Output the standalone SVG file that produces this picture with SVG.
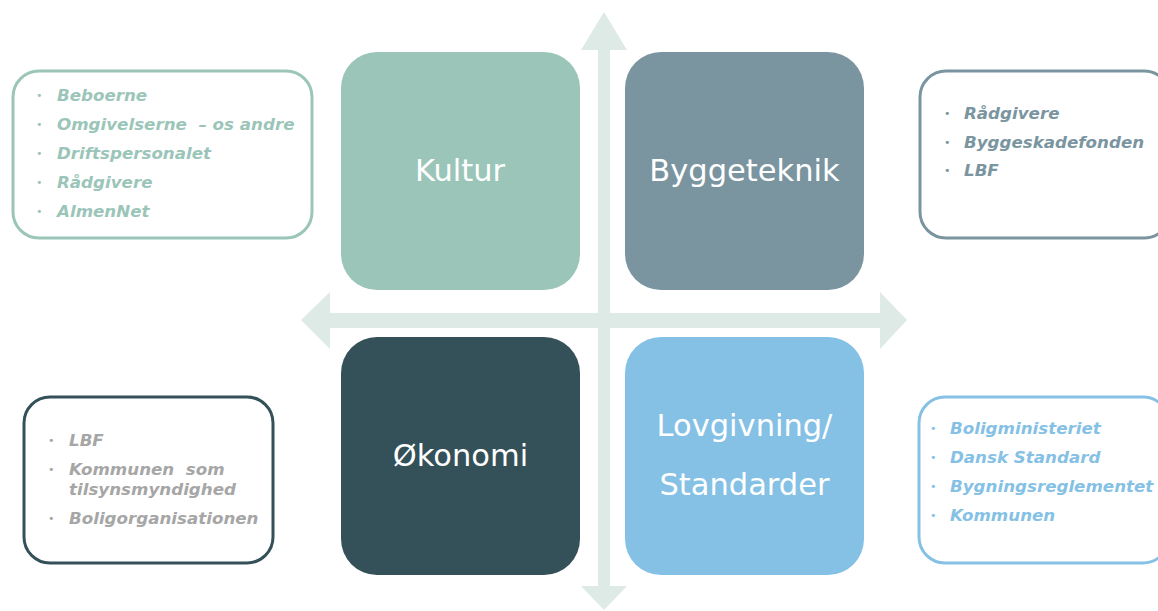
<svg xmlns="http://www.w3.org/2000/svg" width="1158" height="611" viewBox="0 0 1158 611">
<style>
.big{font-family:"DejaVu Sans",Verdana,sans-serif;font-size:30.5px;fill:#ffffff;text-anchor:middle}
.li{font-family:"DejaVu Sans",Verdana,sans-serif;font-size:16.7px;font-weight:bold;font-style:italic}
.b{font-size:11px;font-style:normal;font-weight:normal}
.side{fill:#ffffff;stroke-width:3}
.arr{fill:#DDEAE6}
</style>
<rect width="1158" height="611" fill="#ffffff"/>
<g id="axes">
<polygon class="arr" points="598,50 581,50 604,12 627,50 610,50 610,586 627,586 604,610 581,586 598,586"/>
<polygon class="arr" points="330,313 330,292 301,320 330,349 330,328 880,328 880,349 907,320 880,292 880,313"/>
</g>
<g id="kultur">
<rect x="341" y="52" width="239" height="238" rx="36" fill="#9BC5B9"/>
<text class="big" x="460" y="181">Kultur</text>
</g>
<g id="byggeteknik">
<rect x="625" y="52" width="239" height="238" rx="36" fill="#7A95A0"/>
<text class="big" x="744.5" y="181">Byggeteknik</text>
</g>
<g id="okonomi">
<rect x="341" y="337" width="239" height="238" rx="36" fill="#345058"/>
<text class="big" x="460.5" y="466">Økonomi</text>
</g>
<g id="lovgivning">
<rect x="625" y="337" width="239" height="238" rx="36" fill="#85C1E5"/>
<text class="big" x="744.5" y="436">Lovgivning/</text>
<text class="big" x="744.5" y="495">Standarder</text>
</g>
<g id="kultur-list">
<rect class="side" x="13" y="71" width="299" height="167" rx="26" stroke="#9BC5B9"/>
<g class="li" fill="#9BC5B9">
<text class="b" x="36" y="99">•</text><text x="57" y="101">Beboerne</text>
<text class="b" x="36" y="128">•</text><text x="57" y="130" xml:space="preserve">Omgivelserne  – os andre</text>
<text class="b" x="36" y="157">•</text><text x="57" y="159">Driftspersonalet</text>
<text class="b" x="36" y="186">•</text><text x="57" y="188">Rådgivere</text>
<text class="b" x="36" y="215">•</text><text x="57" y="217">AlmenNet</text>
</g>
</g>
<g id="byggeteknik-list">
<rect class="side" x="920" y="71" width="250" height="167" rx="26" stroke="#7A95A0"/>
<g class="li" fill="#7A95A0">
<text class="b" x="944" y="117">•</text><text x="964" y="119">Rådgivere</text>
<text class="b" x="944" y="146">•</text><text x="964" y="148">Byggeskadefonden</text>
<text class="b" x="944" y="174">•</text><text x="964" y="176">LBF</text>
</g>
</g>
<g id="okonomi-list">
<rect class="side" x="24" y="397" width="249" height="166" rx="26" stroke="#345058"/>
<g class="li" fill="#A6A6A6">
<text class="b" x="48" y="444">•</text><text x="69" y="446">LBF</text>
<text class="b" x="48" y="473">•</text><text x="69" y="475" xml:space="preserve">Kommunen  som</text>
<text x="69" y="495">tilsynsmyndighed</text>
<text class="b" x="48" y="522">•</text><text x="69" y="524">Boligorganisationen</text>
</g>
</g>
<g id="lovgivning-list">
<rect class="side" x="919" y="397" width="250" height="166" rx="26" stroke="#85C1E5"/>
<g class="li" fill="#85C1E5">
<text class="b" x="930" y="432">•</text><text x="950" y="434">Boligministeriet</text>
<text class="b" x="930" y="461">•</text><text x="950" y="463">Dansk Standard</text>
<text class="b" x="930" y="490">•</text><text x="950" y="492">Bygningsreglementet</text>
<text class="b" x="930" y="519">•</text><text x="950" y="521">Kommunen</text>
</g>
</g>
</svg>
